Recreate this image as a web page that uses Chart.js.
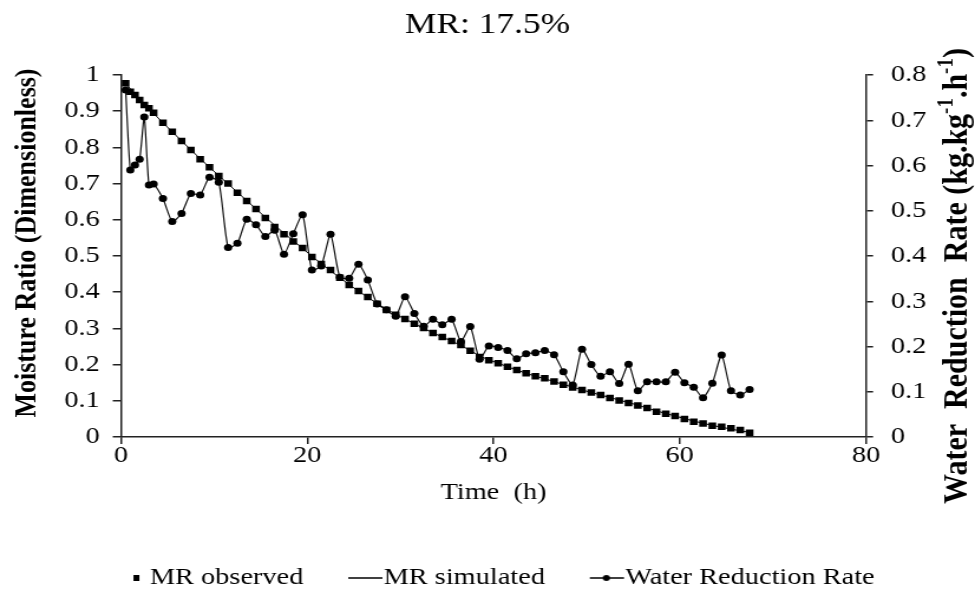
<!DOCTYPE html>
<html>
<head>
<meta charset="utf-8">
<title>MR: 17.5%</title>
<script src="https://cdn.jsdelivr.net/npm/chart.js@4.4.1/dist/chart.umd.min.js"></script>
<style>
  html, body { margin: 0; padding: 0; background: #fff; }
  #chart { display: block; }
</style>
</head>
<body>
<!-- the original figure is stretched sideways, so the canvas is drawn narrower and widened by css -->
<canvas id="chart" width="826" height="600" style="width:975px;height:600px"></canvas>
<script>
// drying time of each reading (h)
const times = [0.5, 1, 1.5, 2, 2.5, 3, 3.5,
  4.5, 5.5, 6.5, 7.5, 8.5, 9.5, 10.5, 11.5, 12.5, 13.5, 14.5, 15.5, 16.5, 17.5, 18.5, 19.5,
  20.5, 21.5, 22.5, 23.5, 24.5, 25.5, 26.5, 27.5, 28.5, 29.5, 30.5, 31.5, 32.5, 33.5, 34.5, 35.5,
  36.5, 37.5, 38.5, 39.5, 40.5, 41.5, 42.5, 43.5, 44.5, 45.5, 46.5, 47.5, 48.5, 49.5, 50.5, 51.5,
  52.5, 53.5, 54.5, 55.5, 56.5, 57.5, 58.5, 59.5, 60.5, 61.5, 62.5, 63.5, 64.5, 65.5, 66.5, 67.5];

const mrObserved = [0.977, 0.954, 0.945, 0.931, 0.917, 0.908, 0.896,
  0.868, 0.843, 0.818, 0.793, 0.767, 0.745, 0.721, 0.700, 0.675, 0.652, 0.630, 0.605, 0.580, 0.560, 0.540, 0.522,
  0.497, 0.478, 0.461, 0.440, 0.420, 0.403, 0.387, 0.368, 0.351, 0.338, 0.326, 0.313, 0.301, 0.287, 0.276, 0.265,
  0.254, 0.238, 0.221, 0.212, 0.204, 0.194, 0.185, 0.176, 0.168, 0.162, 0.153, 0.144, 0.137, 0.130, 0.123, 0.116,
  0.108, 0.101, 0.094, 0.087, 0.080, 0.070, 0.064, 0.058, 0.050, 0.042, 0.037, 0.031, 0.028, 0.024, 0.019, 0.012];

const mrSimulated = [0.978, 0.962, 0.947, 0.933, 0.919, 0.906, 0.894,
  0.868, 0.843, 0.818, 0.793, 0.769, 0.745, 0.722, 0.699, 0.676, 0.653, 0.630, 0.607, 0.585, 0.563, 0.542, 0.521,
  0.499, 0.479, 0.459, 0.440, 0.421, 0.403, 0.386, 0.369, 0.353, 0.339, 0.326, 0.313, 0.300, 0.288, 0.276, 0.265,
  0.253, 0.239, 0.224, 0.213, 0.204, 0.194, 0.185, 0.176, 0.168, 0.161, 0.153, 0.145, 0.138, 0.130, 0.123, 0.116,
  0.109, 0.102, 0.095, 0.088, 0.080, 0.072, 0.065, 0.058, 0.051, 0.044, 0.038, 0.032, 0.027, 0.022, 0.017, 0.013];

// kg.kg-1.h-1, right axis
const waterReduction = [0.767, 0.590, 0.601, 0.614, 0.707, 0.557, 0.559,
  0.527, 0.476, 0.494, 0.538, 0.535, 0.574, 0.563, 0.419, 0.428, 0.481, 0.469, 0.443, 0.457, 0.404, 0.449, 0.491,
  0.369, 0.378, 0.448, 0.353, 0.351, 0.382, 0.347, 0.294, 0.281, 0.267, 0.310, 0.273, 0.245, 0.260, 0.248, 0.260,
  0.211, 0.244, 0.172, 0.201, 0.198, 0.191, 0.173, 0.184, 0.186, 0.191, 0.182, 0.144, 0.115, 0.194, 0.160, 0.134,
  0.144, 0.118, 0.161, 0.102, 0.122, 0.122, 0.122, 0.143, 0.120, 0.110, 0.087, 0.119, 0.181, 0.102, 0.093, 0.105];

const xTicks = [0, 20, 40, 60, 80];

const FONT = '"Liberation Serif", "Times New Roman", serif';
Chart.defaults.font.family = FONT;
Chart.defaults.color = '#000';

const STRETCH = 975 / 826;   // css width / canvas width
const pts = arr => times.map((t, i) => ({ x: t, y: arr[i] }));
const fmt = v => String(Math.round(v * 10) / 10);

// small canvases used as legend symbols; they run up to the label text like the original
function legendIcon(kind) {
  const c = document.createElement('canvas');
  c.width = 54; c.height = 14;
  const g = c.getContext('2d');
  g.fillStyle = '#000'; g.strokeStyle = '#000';
  if (kind === 'square') {
    g.fillRect(40, 4, 5, 6);
  } else {
    g.lineWidth = 1.5;
    g.beginPath(); g.moveTo(24, 7); g.lineTo(53, 7); g.stroke();
    if (kind === 'dot') { g.beginPath(); g.arc(38, 7, 3, 0, Math.PI * 2); g.fill(); }
  }
  return c;
}
const icons = [legendIcon('square'), legendIcon('line'), legendIcon('dot')];

// both y titles read bottom-to-top; the right one has superscripts, so they are drawn here
function drawVertical(ctx, parts, size, cx, cy) {
  const big = 'bold ' + size + 'px ' + FONT, small = 'bold ' + Math.round(size * 0.62) + 'px ' + FONT;
  ctx.save();
  let total = 0;
  parts.forEach(p => { ctx.font = p[1] ? small : big; total += ctx.measureText(p[0]).width; });
  ctx.translate(cx, cy);
  ctx.rotate(-Math.PI / 2);
  ctx.fillStyle = '#000';
  ctx.textBaseline = 'middle';
  let x = -total / 2;
  parts.forEach(p => {
    ctx.font = p[1] ? small : big;
    ctx.fillText(p[0], x, p[1] ? -size * 0.33 : 0);
    x += ctx.measureText(p[0]).width;
  });
  ctx.restore();
}

const axisTitles = {
  id: 'axisTitles',
  afterDraw(chart) {
    const ctx = chart.ctx;
    drawVertical(ctx, [['Moisture Ratio (Dimensionless)', false]], 26, 28 / STRETCH, 243);
    drawVertical(ctx, [['Water  Reduction  Rate (kg.kg', false], ['-1', true], ['.h', false], ['-1', true], [')', false]],
      30, 958 / STRETCH, 276);
  }
};

const axisColor = '#222';
const LEGEND_PAD = 26;
const LEGEND_H = 24 + LEGEND_PAD + 10;
const X_AXIS_H = 600 - 437 - LEGEND_H;

new Chart(document.getElementById('chart'), {
  type: 'scatter',
  data: {
    datasets: [
      {
        label: 'MR observed', data: pts(mrObserved), yAxisID: 'y', showLine: false,
        pointStyle: 'rect', pointRadius: 4.6, pointBorderWidth: 0,
        backgroundColor: '#000', borderColor: '#000'
      },
      {
        label: 'MR simulated', data: pts(mrSimulated), yAxisID: 'y', showLine: true,
        pointRadius: 0, borderColor: '#000', borderWidth: 1
      },
      {
        label: 'Water Reduction Rate', data: pts(waterReduction), yAxisID: 'y1', showLine: true,
        pointStyle: 'circle', pointRadius: 3.5, pointBorderWidth: 0,
        backgroundColor: '#000', borderColor: '#111', borderWidth: 1.2, tension: 0.2
      }
    ]
  },
  options: {
    responsive: false,
    animation: false,
    devicePixelRatio: 1,
    layout: { padding: 0 },
    plugins: {
      tooltip: { enabled: false },
      title: {
        display: true, text: 'MR: 17.5%', color: '#000',
        font: { size: 30, weight: 'normal' }, padding: { top: 7, bottom: 32 }
      },
      legend: {
        position: 'bottom',
        labels: {
          font: { size: 24 }, color: '#000', padding: LEGEND_PAD,
          usePointStyle: true, pointStyleWidth: 30,
          generateLabels: chart => chart.data.datasets.map((ds, i) => ({
            text: ds.label, pointStyle: icons[i], datasetIndex: i,
            fillStyle: '#000', strokeStyle: '#000', lineWidth: 0, hidden: false
          }))
        }
      }
    },
    scales: {
      x: {
        type: 'linear', min: 0, max: 80,
        afterBuildTicks: s => { s.ticks = xTicks.map(v => ({ value: v })); },
        afterFit: s => { s.height = X_AXIS_H; },
        ticks: { font: { size: 24 }, color: '#000', padding: -3, maxRotation: 0 },
        grid: { drawOnChartArea: false, color: axisColor, lineWidth: 1.5, tickLength: 7 },
        border: { color: axisColor, width: 1.5 },
        title: {
          display: true, text: 'Time  (h)', color: '#000',
          font: { size: 24 }, padding: { top: 0, bottom: X_AXIS_H + 437 - 493 - 14.4 }
        }
      },
      y: {
        position: 'left', min: 0, max: 1,
        afterFit: s => { s.width = 121 / STRETCH; },
        ticks: { stepSize: 0.1, font: { size: 24 }, color: '#000', padding: 11, callback: fmt },
        grid: { drawOnChartArea: false, color: axisColor, lineWidth: 1.5, tickLength: 7 },
        border: { color: axisColor, width: 1.5 }
      },
      y1: {
        position: 'right', min: 0, max: 0.8,
        afterFit: s => { s.width = (975 - 866) / STRETCH; },
        ticks: { stepSize: 0.1, font: { size: 24 }, color: '#000', padding: 15, callback: fmt },
        grid: { drawOnChartArea: false, color: axisColor, lineWidth: 1.5, tickLength: 6 },
        border: { color: axisColor, width: 1.5 }
      }
    }
  },
  plugins: [axisTitles]
});
</script>
</body>
</html>
